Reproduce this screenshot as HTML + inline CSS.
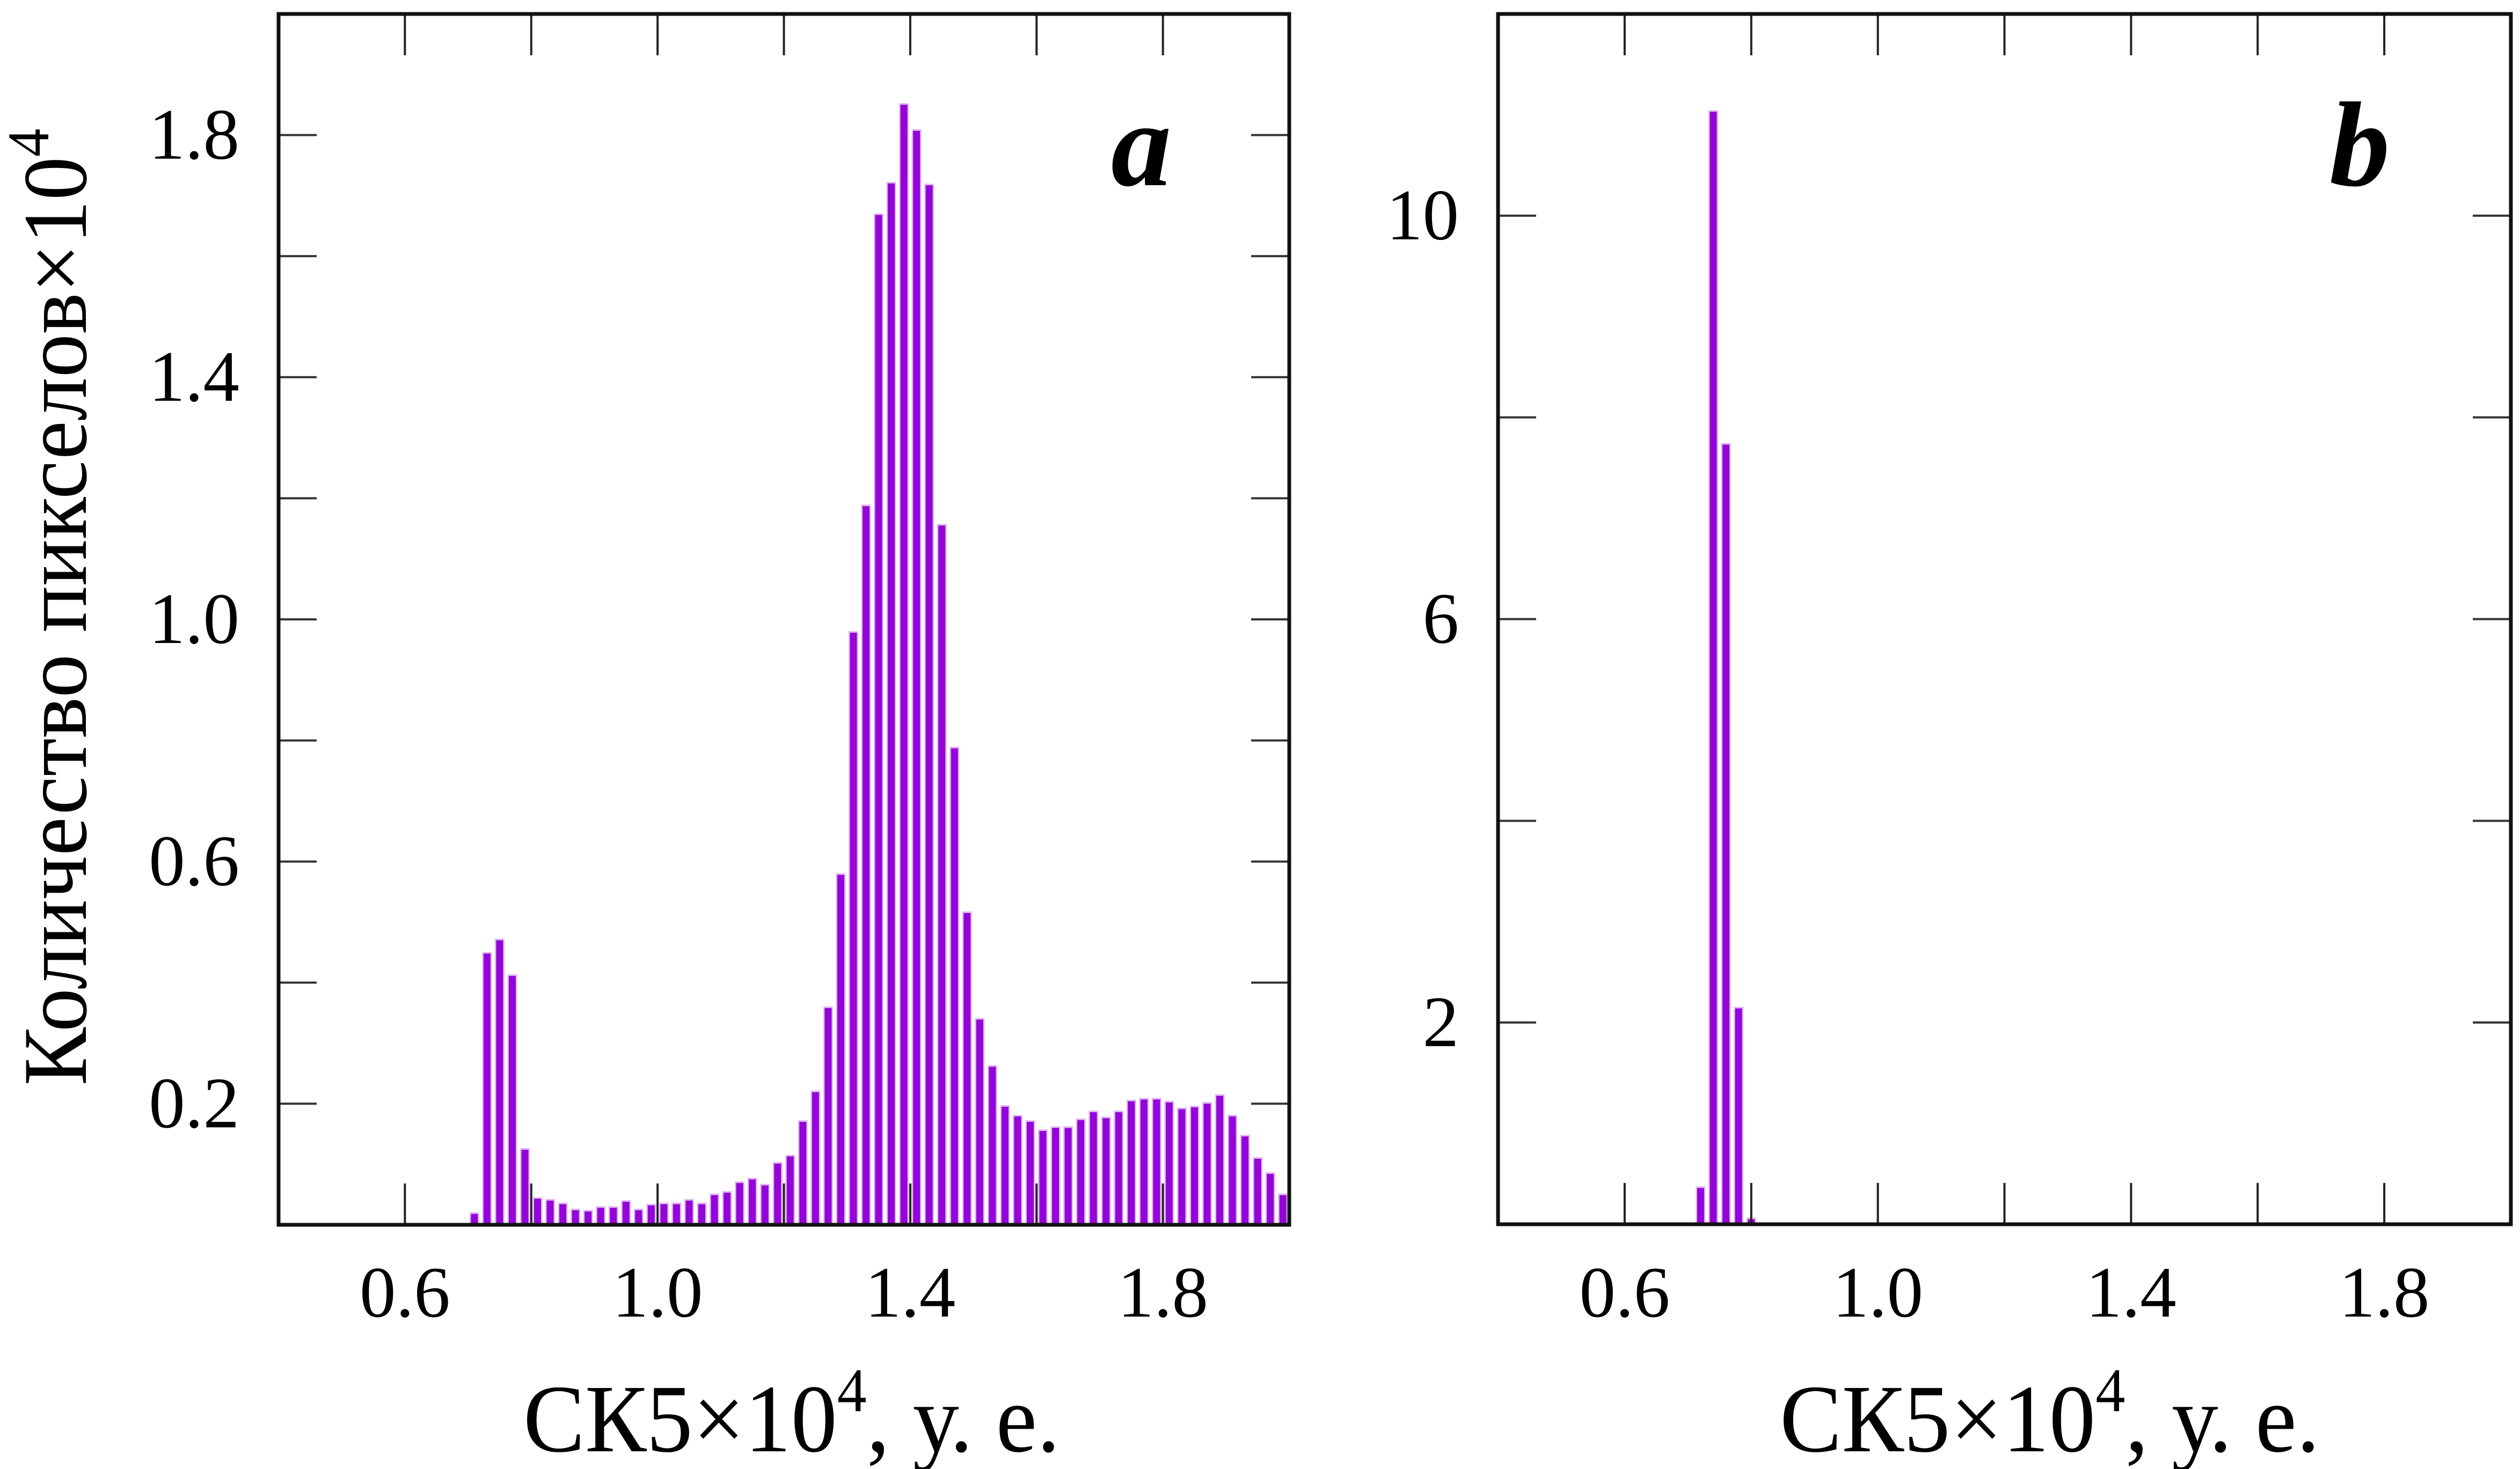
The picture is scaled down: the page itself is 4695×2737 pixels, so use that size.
<!DOCTYPE html>
<html><head><meta charset="utf-8">
<style>
html,body{margin:0;padding:0;background:#fff;}
svg{display:block;}
text{font-family:"Liberation Serif",serif;fill:#000;}
</style></head>
<body>
<svg id="chart" width="4695" height="2737" viewBox="0 0 4695 2737" xmlns="http://www.w3.org/2000/svg">
<rect x="0" y="0" width="4695" height="2737" fill="#fff"/>
<g id="panelA"></g>
<g id="panelB"></g>
<text transform="translate(160,1131) rotate(-90)" text-anchor="middle" font-size="170" textLength="1783" lengthAdjust="spacingAndGlyphs">Количество пикселов×10<tspan font-size="110" dy="-70">4</tspan></text>
<text x="975" y="2704" font-size="180" textLength="1000" lengthAdjust="spacingAndGlyphs">СК5×10<tspan font-size="115" dy="-75">4</tspan><tspan dy="75">, у. е.</tspan></text>
<text x="3316" y="2704" font-size="180" textLength="1006" lengthAdjust="spacingAndGlyphs">СК5×10<tspan font-size="115" dy="-75">4</tspan><tspan dy="75">, у. е.</tspan></text>
<text x="2070" y="345" font-size="225" font-weight="bold" font-style="italic">a</text>
<text x="4340" y="345" font-size="225" font-weight="bold" font-style="italic">b</text>
</svg>
<script>
const xTicks = [0.6, 0.8, 1.0, 1.2, 1.4, 1.6, 1.8];
const xTickLabels = ["0.6", "1.0", "1.4", "1.8"];
const aYTicks = [0.2, 0.4, 0.6, 0.8, 1.0, 1.2, 1.4, 1.6, 1.8];
const aYTickLabels = ["0.2", "0.6", "1.0", "1.4", "1.8"];
const bYTicks = [2, 4, 6, 8, 10];
const bYTickLabels = ["2", "6", "10"];
const aBins = [0.71,0.73,0.75,0.77,0.79,0.81,0.83,0.85,0.87,0.89,0.91,0.93,0.95,0.97,0.99,1.01,1.03,1.05,1.07,1.09,1.11,1.13,1.15,1.17,1.19,1.21,1.23,1.25,1.27,1.29,1.31,1.33,1.35,1.37,1.39,1.41,1.43,1.45,1.47,1.49,1.51,1.53,1.55,1.57,1.59,1.61,1.63,1.65,1.67,1.69,1.71,1.73,1.75,1.77,1.79,1.81,1.83,1.85,1.87,1.89,1.91,1.93,1.95,1.97,1.99];
const aCounts = [0.018,0.448,0.470,0.411,0.124,0.043,0.040,0.034,0.024,0.022,0.028,0.028,0.038,0.024,0.032,0.034,0.034,0.040,0.034,0.049,0.053,0.069,0.075,0.065,0.101,0.113,0.170,0.219,0.358,0.578,0.978,1.187,1.668,1.720,1.850,1.807,1.717,1.155,0.787,0.515,0.339,0.261,0.195,0.179,0.170,0.155,0.160,0.160,0.173,0.186,0.176,0.186,0.204,0.207,0.207,0.202,0.191,0.194,0.200,0.213,0.179,0.146,0.109,0.084,0.049];
const bBins = [0.72, 0.74, 0.76, 0.78, 0.80];
const bCounts = [0.36, 11.03, 7.73, 2.14, 0.05];

const NS = "http://www.w3.org/2000/svg";
function mk(tag, attrs, parent) {
  const e = document.createElementNS(NS, tag);
  for (const k in attrs) e.setAttribute(k, attrs[k]);
  parent.appendChild(e);
  return e;
}
function drawPanel(g, box, xmin, xmax, ymax, bins, counts, yTicks, yLabels, prefix) {
  const sx = v => box.l + (v - xmin) / (xmax - xmin) * (box.r - box.l);
  const sy = v => box.b - v / ymax * (box.b - box.t);
  // bars
  for (let i = 0; i < bins.length; i++) {
    const cx = sx(bins[i]), y = sy(counts[i]);
    const halo = mk('rect', {x: cx - 9, y: y - 3, width: 18, height: box.b - y + 3, fill: '#e2b8f3'}, g);
    
    
    const bar = mk('rect', {x: cx - 6.5, y: y, width: 13, height: box.b - y, fill: '#9304d8'}, g);
    
    
  }
  // x ticks (bottom and top)
  xTicks.forEach(v => {
    const x = sx(v);
    const t1 = mk('line', {x1: x, x2: x, y1: box.b, y2: box.b - 77, stroke: '#222', 'stroke-width': 4}, g);
    
    
    const t2 = mk('line', {x1: x, x2: x, y1: box.t, y2: box.t + 77, stroke: '#222', 'stroke-width': 4}, g);
    
    
  });
  xTickLabels.forEach(s => {
    const t = mk('text', {x: sx(parseFloat(s)), y: 2453, 'font-size': 135, 'text-anchor': 'middle'}, g);
    t.textContent = s;
    
    
  });
  yTicks.forEach(v => {
    const y = sy(v);
    const t1 = mk('line', {x1: box.l, x2: box.l + 71, y1: y, y2: y, stroke: '#333', 'stroke-width': 4}, g);
    
    
    const t2 = mk('line', {x1: box.r, x2: box.r - 71, y1: y, y2: y, stroke: '#333', 'stroke-width': 4}, g);
    
    
  });
  yLabels.forEach(s => {
    const t = mk('text', {x: box.l - 73, y: sy(parseFloat(s)) + 44, 'font-size': 135, 'text-anchor': 'end'}, g);
    t.textContent = s;
    
    
  });
  const fr = mk('rect', {x: box.l, y: box.t, width: box.r - box.l, height: box.b - box.t, fill: 'none', stroke: '#111', 'stroke-width': 7}, g);
  
  
}
drawPanel(document.getElementById('panelA'), {l: 519, r: 2402, t: 26, b: 2282}, 0.4, 2.0, 2.0, aBins, aCounts, aYTicks, aYTickLabels, 'a');
drawPanel(document.getElementById('panelB'), {l: 2791, r: 4678, t: 26, b: 2281}, 0.4, 2.0, 12, bBins, bCounts, bYTicks, bYTickLabels, 'b');
</script>
</body></html>
